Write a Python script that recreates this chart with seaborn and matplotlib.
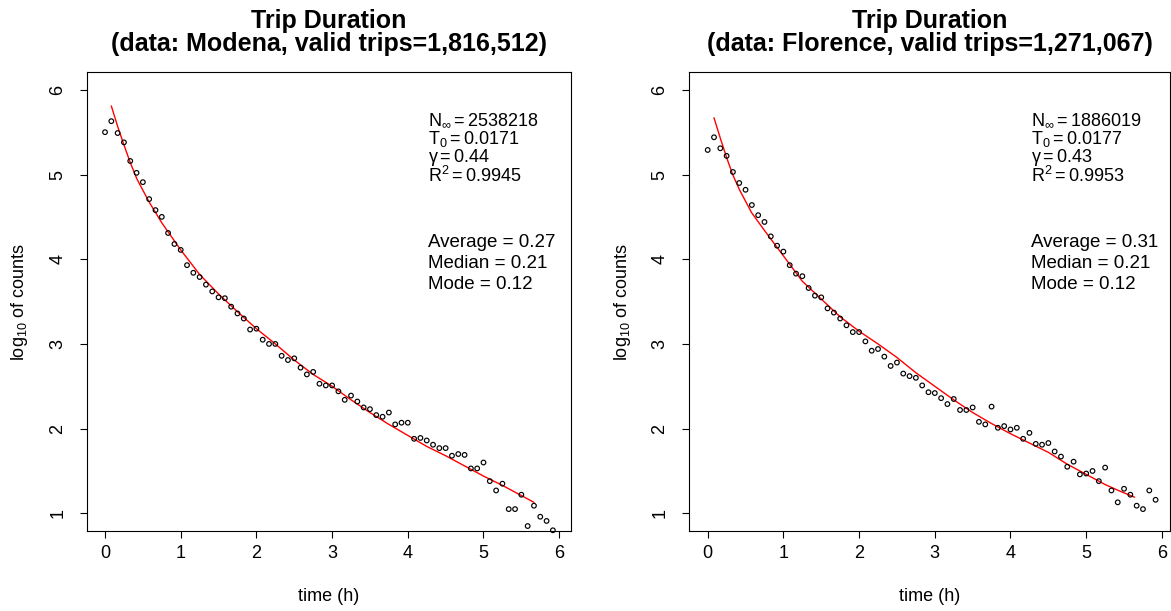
import matplotlib
matplotlib.use("Agg")
import matplotlib.pyplot as plt
import seaborn as sns
import pandas as pd

# ---------------- data ----------------
bin_minutes = [0, 5, 10, 15, 20, 25, 30, 35, 40, 45, 50, 55,
               60, 65, 70, 75, 80, 85, 90, 95, 100, 105, 110, 115,
               120, 125, 130, 135, 140, 145, 150, 155, 160, 165, 170, 175,
               180, 185, 190, 195, 200, 205, 210, 215, 220, 225, 230, 235,
               240, 245, 250, 255, 260, 265, 270, 275, 280, 285, 290, 295,
               300, 305, 310, 315, 320, 325, 330, 335, 340, 345, 350, 355]

modena_log_counts = [5.50, 5.63, 5.49, 5.38, 5.16, 5.02, 4.91, 4.71, 4.58, 4.50,
                     4.31, 4.18, 4.11, 3.93, 3.84, 3.79, 3.70, 3.62, 3.55, 3.54,
                     3.44, 3.36, 3.30, 3.17, 3.18, 3.05, 3.00, 3.00, 2.86, 2.81,
                     2.83, 2.72, 2.64, 2.67, 2.53, 2.51, 2.51, 2.44, 2.34, 2.39,
                     2.32, 2.25, 2.23, 2.16, 2.14, 2.19, 2.05, 2.07, 2.07, 1.88,
                     1.89, 1.86, 1.81, 1.77, 1.77, 1.68, 1.70, 1.69, 1.53, 1.53,
                     1.60, 1.38, 1.27, 1.35, 1.05, 1.05, 1.22, 0.85, 1.09, 0.96,
                     0.91, 0.80]

florence_log_counts = [5.29, 5.44, 5.31, 5.22, 5.03, 4.90, 4.82, 4.64, 4.52, 4.44,
                       4.27, 4.16, 4.09, 3.93, 3.83, 3.80, 3.66, 3.57, 3.55, 3.42,
                       3.37, 3.30, 3.22, 3.14, 3.14, 3.03, 2.92, 2.94, 2.85, 2.74,
                       2.78, 2.65, 2.62, 2.60, 2.51, 2.43, 2.42, 2.36, 2.29, 2.35,
                       2.22, 2.22, 2.25, 2.08, 2.05, 2.26, 2.01, 2.03, 1.99, 2.01,
                       1.88, 1.95, 1.82, 1.81, 1.83, 1.73, 1.67, 1.55, 1.61, 1.46,
                       1.47, 1.50, 1.38, 1.54, 1.27, 1.13, 1.29, 1.22, 1.09, 1.05,
                       1.27, 1.16]

modena_fit_time = [0.083, 0.17, 0.25, 0.33, 0.42, 0.58, 0.75, 1.0, 1.25, 1.5, 1.75,
                   2.0, 2.25, 2.5, 2.75, 3.0, 3.25, 3.5, 3.75, 4.0, 4.25, 4.5,
                   4.75, 5.0, 5.25, 5.5, 5.667]
modena_fit_log = [5.81, 5.56, 5.35, 5.15, 4.95, 4.68, 4.43, 4.11, 3.82, 3.59, 3.38,
                  3.18, 3.00, 2.81, 2.64, 2.50, 2.34, 2.19, 2.05, 1.92, 1.79, 1.68,
                  1.56, 1.44, 1.33, 1.21, 1.13]

florence_fit_time = [0.083, 0.17, 0.25, 0.33, 0.42, 0.58, 0.75, 1.0, 1.25, 1.5, 1.75,
                     2.0, 2.25, 2.5, 2.75, 3.0, 3.25, 3.5, 3.75, 4.0, 4.25, 4.5,
                     4.75, 5.0, 5.25, 5.45, 5.64]
florence_fit_log = [5.67, 5.42, 5.20, 5.00, 4.82, 4.55, 4.34, 4.04, 3.74, 3.53, 3.32,
                    3.15, 3.00, 2.84, 2.66, 2.50, 2.34, 2.19, 2.06, 1.94, 1.83, 1.72,
                    1.58, 1.46, 1.34, 1.26, 1.19]

titles = ["Trip Duration\n(data: Modena, valid trips=1,816,512)",
          "Trip Duration\n(data: Florence, valid trips=1,271,067)"]
fit_params = [[r"$N_{\infty} = 2538218$", r"$T_{0} = 0.0171$", r"$\gamma = 0.44$", r"$R^{2} = 0.9945$"],
              [r"$N_{\infty} = 1886019$", r"$T_{0} = 0.0177$", r"$\gamma = 0.43$", r"$R^{2} = 0.9953$"]]
stats_lines = [["Average = 0.27", "Median = 0.21", "Mode = 0.12"],
               ["Average = 0.31", "Median = 0.21", "Mode = 0.12"]]
x_ticks = [0, 1, 2, 3, 4, 5, 6]
y_ticks = [1, 2, 3, 4, 5, 6]

# ---------------- style ----------------
sns.set_style("white")
plt.rcParams["font.family"] = ["Liberation Sans", "DejaVu Sans"]
plt.rcParams["mathtext.fontset"] = "custom"
plt.rcParams["mathtext.rm"] = "Liberation Sans"
plt.rcParams["mathtext.it"] = "Liberation Sans:italic"
plt.rcParams["mathtext.bf"] = "Liberation Sans:bold"
plt.rcParams["mathtext.default"] = "regular"
plt.rcParams["text.color"] = "black"
plt.rcParams["axes.labelcolor"] = "black"
plt.rcParams["xtick.color"] = "black"
plt.rcParams["ytick.color"] = "black"
plt.rcParams["axes.edgecolor"] = "black"

fig = plt.figure(figsize=(11.71, 6.11), dpi=100)
W, H = 1171.0, 611.0
axes_px = [(87.3, 570.7, -0.234, 6.152), (689.3, 1170.0, -0.243, 6.107)]

datasets = [(modena_log_counts, modena_fit_time, modena_fit_log),
            (florence_log_counts, florence_fit_time, florence_fit_log)]

for i, (left_px, right_px, xmin, xmax) in enumerate(axes_px):
    ax = fig.add_axes([left_px / W, 1 - 530.7 / H, (right_px - left_px) / W, (530.7 - 72.3) / H])
    counts, ft, fl = datasets[i]
    df = pd.DataFrame({"time": [m / 60 for m in bin_minutes], "logc": counts})
    fit_df = pd.DataFrame({"time": ft, "logc": fl})
    sns.scatterplot(data=df, x="time", y="logc", ax=ax, marker="o", s=11,
                    facecolor="none", edgecolor="black", linewidth=0.85, zorder=3,
                    clip_on=False)
    sns.lineplot(data=fit_df, x="time", y="logc", ax=ax, color="red",
                 linewidth=1.0, zorder=2)
    ax.set_xlim(xmin, xmax)
    ax.set_ylim(0.795, 6.207)
    ax.set_xticks(x_ticks)
    ax.set_yticks(y_ticks)
    ax.set_xticklabels([str(v) for v in x_ticks])
    ax.set_yticklabels([str(v) for v in y_ticks], rotation=90, va="center")
    ax.tick_params(direction="out", length=5, width=0.8, color="black",
                   labelcolor="black", labelsize=13, bottom=True, left=True)
    ax.tick_params(axis="x", pad=5)
    ax.tick_params(axis="y", pad=10)
    for sp in ax.spines.values():
        sp.set_visible(True)
        sp.set_color("black")
        sp.set_linewidth(0.8)
    ax.set_xlabel("time (h)", fontsize=13, color="black")
    ax.set_ylabel("log$_{10}$ of counts", fontsize=13, color="black")
    ax.xaxis.set_label_coords(0.5, -0.125)
    ax.yaxis.set_label_coords(-0.118, 0.5)
    ax.set_title(titles[i], fontsize=18, fontweight="bold", pad=15,
                 linespacing=0.95, color="black")

    y_par = [5.643, 5.425, 5.206, 4.982]
    for txt, yy in zip(fit_params[i], y_par):
        ax.text(4.27, yy, txt, fontsize=13, ha="left", va="center", color="black")
    y_st = [4.20, 3.95, 3.70]
    for txt, yy in zip(stats_lines[i], y_st):
        ax.text(4.27, yy, txt, fontsize=13.5, ha="left", va="center", color="black")

fig.savefig("out.png", dpi=100, facecolor="white")
